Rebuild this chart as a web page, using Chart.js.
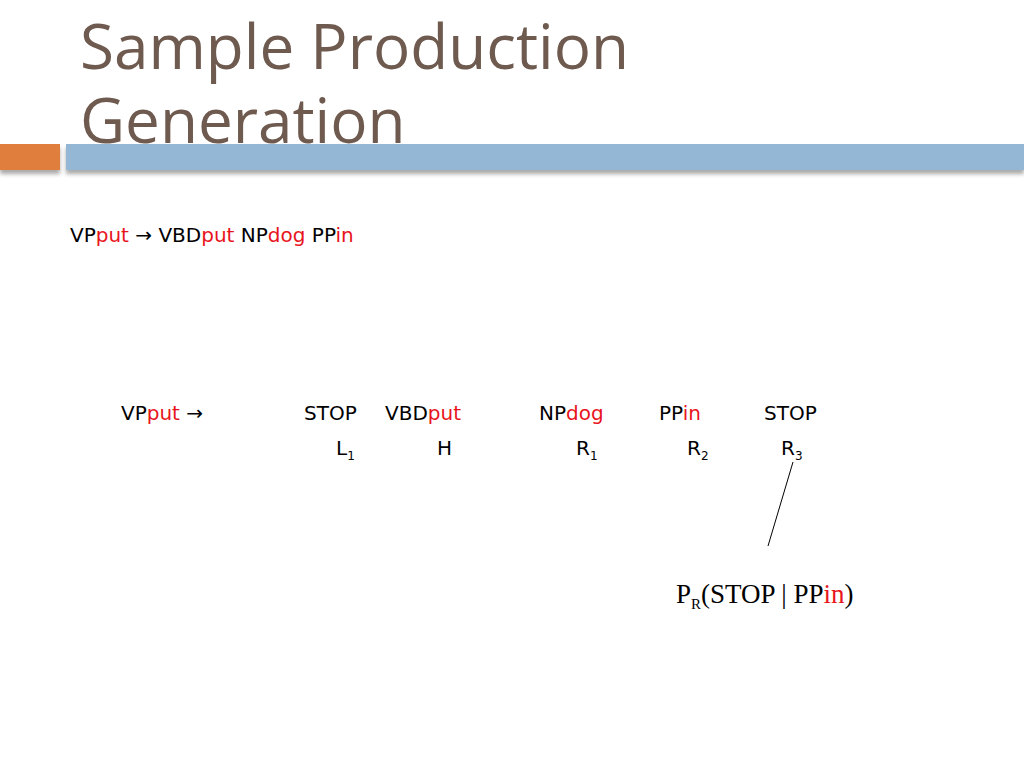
<!DOCTYPE html>
<html><head><meta charset="utf-8">
<script src="https://cdn.jsdelivr.net/npm/chart.js@4"></script>
<style>
body{margin:0;width:1024px;height:768px;background:#fff;position:relative;overflow:hidden;font-family:"DejaVu Sans",sans-serif;}
.t{position:absolute;white-space:nowrap;}
.r{color:#e8141c;}
#title{left:80px;top:8px;font-family:"Open Sans",sans-serif;font-size:62px;line-height:74px;color:#6e5a4f;}
#ob{position:absolute;left:0;top:144px;width:60px;height:26px;background:#e07e3e;box-shadow:0 4px 4px #aaa;}
#bb{position:absolute;left:66px;top:144px;width:958px;height:26px;background:#95b7d6;box-shadow:0 4px 4px #aaa;}
.s{font-size:20px;}
sub{font-size:12px;}
#cv{position:absolute;left:0;top:0;}
</style></head><body>
<div id="title" class="t">Sample Production<br>Generation</div>
<div id="ob"></div><div id="bb"></div>
<div class="t s" style="left:70px;top:223px">VP<span class="r">put</span> → VBD<span class="r">put</span> NP<span class="r">dog</span> PP<span class="r">in</span></div>
<div class="t s" style="left:121px;top:401px">VP<span class="r">put</span> →</div>
<div class="t s" style="left:304px;top:401px">STOP</div>
<div class="t s" style="left:385px;top:401px">VBD<span class="r">put</span></div>
<div class="t s" style="left:539px;top:401px">NP<span class="r">dog</span></div>
<div class="t s" style="left:659px;top:401px">PP<span class="r">in</span></div>
<div class="t s" style="left:764px;top:401px">STOP</div>
<div class="t s" style="left:336px;top:436px">L<sub>1</sub></div>
<div class="t s" style="left:437px;top:436px">H</div>
<div class="t s" style="left:576px;top:436px">R<sub>1</sub></div>
<div class="t s" style="left:687px;top:436px">R<sub>2</sub></div>
<div class="t s" style="left:781px;top:436px">R<sub>3</sub></div>
<div class="t" style="left:676px;top:579px;font-family:'Liberation Serif',serif;font-size:27px">P<sub style="font-size:15px">R</sub>(STOP | PP<span class="r">in</span>)</div>
<canvas id="cv" width="1024" height="768"></canvas>
<script>
const lineX=[793,768];
const lineY=[462,546];
new Chart(document.getElementById('cv'),{type:'scatter',
data:{datasets:[{data:lineX.map((x,i)=>({x,y:lineY[i]})),showLine:true,borderColor:'#000',borderWidth:1,pointRadius:0}]},
options:{responsive:false,animation:false,layout:{padding:0},plugins:{legend:{display:false},tooltip:{enabled:false}},
scales:{x:{display:false,min:0,max:1024},y:{display:false,min:0,max:768,reverse:true}}}});
</script>
</body></html>
